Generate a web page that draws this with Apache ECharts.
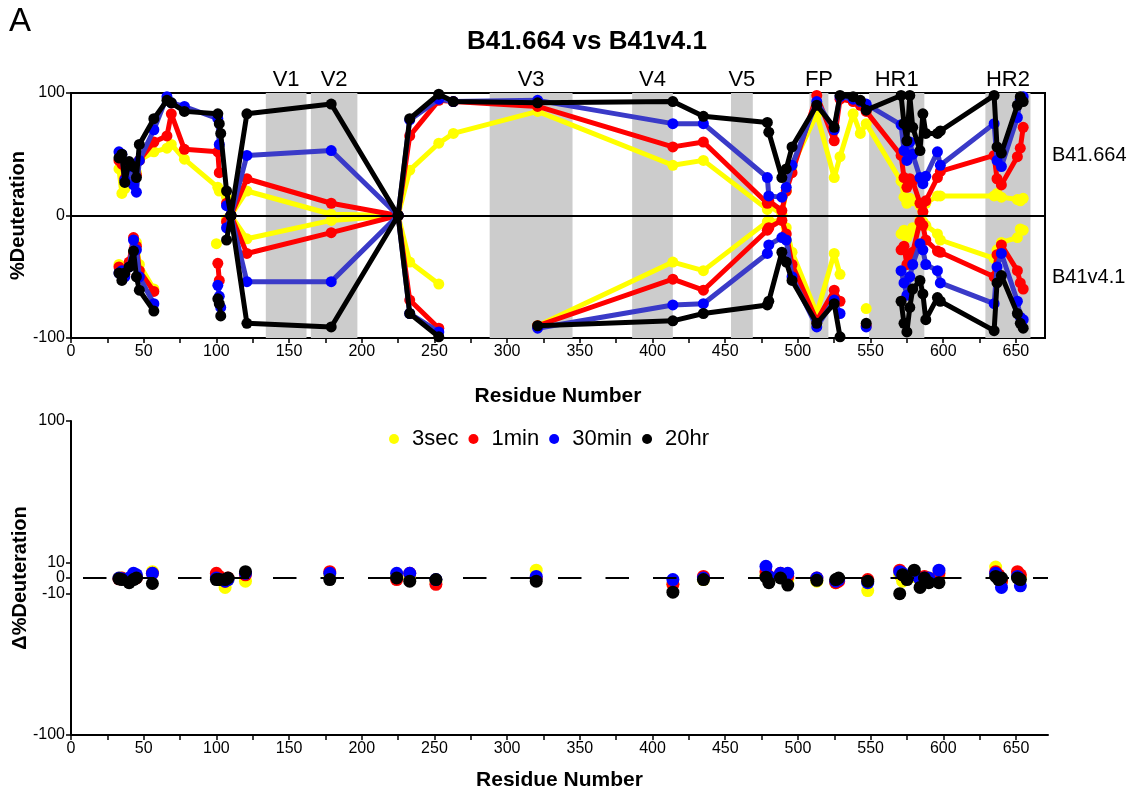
<!DOCTYPE html>
<html>
<head>
<meta charset="utf-8">
<script src="https://cdn.jsdelivr.net/npm/echarts@6/dist/echarts.min.js"></script>
<style>
  html, body { margin: 0; padding: 0; background: #fff; }
  #chart { width: 1132px; height: 797px; }
</style>
</head>
<body>
<div id="chart"></div>
<script>
// ---- Residue positions and % deuteration, B41.664 (drawn upward) ----
const TOP_RES = [33,35,37,40,43,45,47,57,66,69,78,101,102,103,107,110,121,179,225,233,253,263,321,414,435,479,480,489,492,496,513,525,529,538,543,547,571,573,575,577,579,584,586,588,596,598,635,637,640,651,653,655];
const TOP_3SEC  = [38,18,22,35,30,35,45,52,55,58,46,23,20,null,15,0,20,1,0,37,59,67,85,41,45,5,8,1,20,40,83,31,48,83,67,75,28,15,10,14,12,8,3,10,16,16,16,18,15,13,12,14];
const TOP_1MIN  = [45,42,30,40,40,33,45,60,65,83,54,52,35,null,10,0,30,10,0,65,94,93,89,56,60,10,12,4,20,35,98,61,95,93,90,85,49,31,23,30,28,10,3,12,31,36,49,30,25,48,55,72];
const TOP_30MIN = [52,50,29,40,25,19,45,70,97,92,89,79,58,null,8,0,49,53,0,78,95,93,94,75,75,31,16,15,23,41,93,70,97,95,93,91,74,53,45,60,50,31,26,32,52,41,75,45,40,80,95,97];
const TOP_20HR  = [47,50,27,44,40,31,58,79,94,92,85,83,75,67,20,0,83,91,0,79,99,93,92,93,81,76,68,31,38,56,90,72,98,97,94,86,98,75,61,98,72,53,83,67,67,69,98,56,51,90,97,93];

// ---- Residue positions and % deuteration, B41v4.1 (drawn downward) ----
const BOT_RES = [33,35,37,40,43,45,47,57,80,100,101,102,103,105,107,110,121,179,225,233,253,263,321,414,435,479,480,489,492,496,513,525,529,538,547,560,571,573,575,577,579,584,586,588,596,598,635,637,640,651,653,655];
const BOT_3SEC  = [-40,-42,-45,-40,-30,-22,-40,-60,null,-23,null,null,null,null,-3,0,-19,-4,0,-38,-56,null,-90,-38,-45,-5,-4,-4,-10,-30,-80,-31,-48,null,-76,null,-15,-12,-18,-14,-10,-4,-5,-8,-15,-20,-35,-28,-22,-18,-11,-12];
const BOT_1MIN  = [-42,-45,-48,-38,-18,-25,-45,-62,null,null,-39,-53,null,null,-5,0,-31,-14,0,-69,-92,null,-90,-52,-61,-12,-10,-4,-15,-40,-86,-61,-70,null,-90,null,-28,-25,-40,-32,-30,-5,-8,-20,-29,-30,-50,-32,-24,-45,-55,-60];
const BOT_30MIN = [-47,-45,-50,-42,-20,-28,-50,-72,null,null,-57,-66,-75,null,-10,0,-54,-54,0,-80,-95,null,-92,-73,-72,-31,-24,-18,-20,-50,-91,-69,-80,null,-91,null,-45,-55,-65,-50,-40,-23,-28,-40,-45,-55,-72,-42,-31,-70,-83,-85];
const BOT_20HR  = [-47,-53,-47,-42,-29,-50,-61,-78,null,null,-68,-72,-82,null,-20,0,-88,-91,0,-80,-99,null,-90,-86,-80,-73,-70,-30,-38,-53,-88,-72,-99,null,-88,null,-70,-88,-95,-75,-60,-53,-64,-85,-67,-70,-94,-55,-49,-80,-88,-92];

// ---- Difference in % deuteration (B41.664 − B41v4.1) ----
const DIFF_RES = [33,35,40,43,45,56,100,102,106,108,120,178,224,233,251,320,414,435,478,480,488,493,513,526,528,548,570,572,575,580,584,587,590,597,636,638,640,651,653];
const DIFF_3SEC  = [0,0,-1,1,1,4,1,0,-6,-1,-2,2,2,0,-2,5,-4,-1,2,0,2,-1,-2,-3,-1,-8,2,-2,0,1,-1,0,0,1,7,0,-2,2,0];
const DIFF_1MIN  = [-0.5,0,-1,1,0,3,3,1,-2,0,2,4,-1,3,-4,0,-4,1,4,1,3,1,0,-3,-2,-1,5,2,1,3,0,1,-1,3,4,2,-2,4,2];
const DIFF_30MIN = [0,-0.5,0,3,2,3,0,-1,-2,-1,3,3,3,3,-1,1,-1,0,7.5,1,3,3,0,-2,-1,-3,4,3,1,2,-1,0,0,5,3,0,-6,1,-5];
const DIFF_20HR  = [-0.5,-1,-3,-1,0,-3.5,-1,-1,-1,0,4,-1,0,-2,-1,-2,-9,-1,0.5,-3,0,-4.5,-1.5,-1,0,-2,-10,2,-1,5,-6,0,-3,-3,1,-1,0,0,-1];

// ---- Shaded regions of the envelope ----
const REGION_NAMES = ['V1','V2','V3','V4','V5','FP','HR1','HR2'];
const REGION_START = [134,165,288,386,454,508,549,629];
const REGION_END   = [162,197,345,414,469,521,587,660];

// ---- Time points and axis ticks ----
const TIMEPOINTS = ['3sec','1min','30min','20hr'];
const X_LABELS = [0,50,100,150,200,250,300,350,400,450,500,550,600,650];
const X_TICKS = [0,25,50,75,100,125,150,175,200,225,250,275,300,325,350,375,400,425,450,475,500,525,550,575,600,625,650];
const TOP_Y_TICKS = [-100,0,100];
const BOT_Y_TICKS = [-100,-10,0,10,100];

const POINT_COLORS = ['#ffff00','#ff0000','#0000ff','#000000'];
const LINE_COLORS  = ['#ffff00','#ff0000','#3a3ac8','#000000'];
const FONT = '"Liberation Sans", Arial, sans-serif';

function pairs(res, vals) {
  return res.map((r, i) => [r, vals[i] == null ? '-' : vals[i]]);
}

const topSets = [TOP_3SEC, TOP_1MIN, TOP_30MIN, TOP_20HR];
const botSets = [BOT_3SEC, BOT_1MIN, BOT_30MIN, BOT_20HR];
const diffSets = [DIFF_3SEC, DIFF_1MIN, DIFF_30MIN, DIFF_20HR];

const axisLineStyle = { color: '#000', width: 2 };
const tickStyle = { show: true, length: 5, lineStyle: { color: '#000', width: 1.5 } };
const labelStyle = { color: '#000', fontSize: 16, fontFamily: FONT };

function xAxisFor(gridIndex, max, nameGap) {
  return {
    gridIndex, type: 'value', min: 0, max,
    name: 'Residue Number', nameLocation: 'middle', nameGap, nameMoveOverlap: false,
    nameTextStyle: { color: '#000', fontSize: 21, fontWeight: 'bold', fontFamily: FONT },
    axisLine: { show: true, onZero: false, lineStyle: axisLineStyle },
    axisTick: Object.assign({ customValues: X_TICKS }, tickStyle),
    axisLabel: Object.assign({ customValues: X_LABELS, margin: 6 }, labelStyle),
    splitLine: { show: false }
  };
}

function yAxisFor(gridIndex, name, nameGap, ticks) {
  return {
    gridIndex, type: 'value', min: -100, max: 100,
    name, nameLocation: 'middle', nameGap, nameMoveOverlap: false,
    nameTextStyle: { color: '#000', fontSize: 20, fontWeight: 'bold', fontFamily: FONT },
    axisLine: { show: true, onZero: false, lineStyle: axisLineStyle },
    axisTick: Object.assign({ customValues: ticks }, tickStyle),
    axisLabel: Object.assign({ customValues: ticks, margin: 6 }, labelStyle),
    splitLine: { show: false }
  };
}

const series = [];

// Shaded regions with their labels
series.push({
  type: 'line', xAxisIndex: 0, yAxisIndex: 0, data: [], z: 1, silent: true,
  markArea: {
    silent: true,
    itemStyle: { color: '#cccccc', opacity: 1 },
    label: { show: true, position: 'top', distance: 2, color: '#000', fontSize: 22, fontFamily: FONT },
    data: REGION_NAMES.map((n, i) => [{ name: n, xAxis: REGION_START[i] }, { xAxis: REGION_END[i] }])
  }
});
// Zero line of the butterfly plot
series.push({
  type: 'line', xAxisIndex: 0, yAxisIndex: 0, data: [], z: 1.5, silent: true,
  markLine: {
    silent: true, symbol: ['none','none'], label: { show: false },
    lineStyle: { color: '#000', width: 2, type: 'solid' },
    data: [{ yAxis: 0 }]
  }
});

TIMEPOINTS.forEach((t, k) => {
  [[TOP_RES, topSets[k], 'B41.664'], [BOT_RES, botSets[k], 'B41v4.1']].forEach(([res, vals, prot]) => {
    series.push({
      name: prot + ' ' + t,
      type: 'line', xAxisIndex: 0, yAxisIndex: 0,
      data: pairs(res, vals),
      z: 2 + k, silent: true,
      symbol: 'circle', symbolSize: 11, showSymbol: true, showAllSymbol: true,
      connectNulls: false,
      lineStyle: { color: LINE_COLORS[k], width: 5 },
      itemStyle: { color: POINT_COLORS[k] },
      emphasis: { disabled: true }
    });
  });
});

// Dashed zero line of the difference plot
series.push({
  type: 'scatter', xAxisIndex: 1, yAxisIndex: 1, data: [], z: 1, silent: true,
  markLine: {
    silent: true, symbol: ['none','none'], label: { show: false },
    lineStyle: { color: '#000', width: 2, type: [23.5, 24], dashOffset: 35.5 },
    data: [{ yAxis: 0 }]
  }
});

TIMEPOINTS.forEach((t, k) => {
  series.push({
    name: t, type: 'scatter', xAxisIndex: 1, yAxisIndex: 1,
    data: DIFF_RES.map((r, i) => [r, diffSets[k][i]]),
    symbol: 'circle', symbolSize: 13, z: 2 + k, silent: true,
    itemStyle: { color: POINT_COLORS[k], opacity: 1 },
    emphasis: { disabled: true }
  });
});

const option = {
  animation: false,
  backgroundColor: '#fff',
  textStyle: { fontFamily: FONT },
  graphic: [
    { type: 'text', left: 9, top: 5, style: { text: 'A', fontSize: 33, fill: '#000', fontFamily: FONT } },
    { type: 'text', x: 587, y: 42, style: { text: 'B41.664 vs B41v4.1', fontSize: 26, fontWeight: 'bold', fill: '#000', fontFamily: FONT, align: 'center', verticalAlign: 'middle' } },
    { type: 'text', x: 1052, y: 155, style: { text: 'B41.664', fontSize: 20, fill: '#000', fontFamily: FONT, verticalAlign: 'middle' } },
    { type: 'text', x: 1052, y: 277, style: { text: 'B41v4.1', fontSize: 20, fill: '#000', fontFamily: FONT, verticalAlign: 'middle' } }
  ],
  legend: {
    data: TIMEPOINTS, left: 384, top: 423,
    icon: 'circle', itemWidth: 10, itemHeight: 10, itemGap: 10,
    textStyle: { color: '#000', fontSize: 22, fontFamily: FONT, padding: [0, 0, 0, 8] },
    selectedMode: false
  },
  grid: [
    { left: 71, top: 93, width: 974, height: 245, show: true, borderColor: '#000', borderWidth: 2, backgroundColor: 'transparent', outerBoundsMode: 'none', containLabel: false },
    { left: 71, top: 421, width: 977, height: 314, outerBoundsMode: 'none', containLabel: false }
  ],
  xAxis: [ xAxisFor(0, 670, 48), xAxisFor(1, 672, 35) ],
  yAxis: [
    yAxisFor(0, '%Deuteration', 43, TOP_Y_TICKS),
    yAxisFor(1, 'Δ%Deuteration', 41, BOT_Y_TICKS)
  ],
  series
};

const chart = echarts.init(document.getElementById('chart'), null, { renderer: 'canvas' });
chart.setOption(option);
</script>
</body>
</html>
